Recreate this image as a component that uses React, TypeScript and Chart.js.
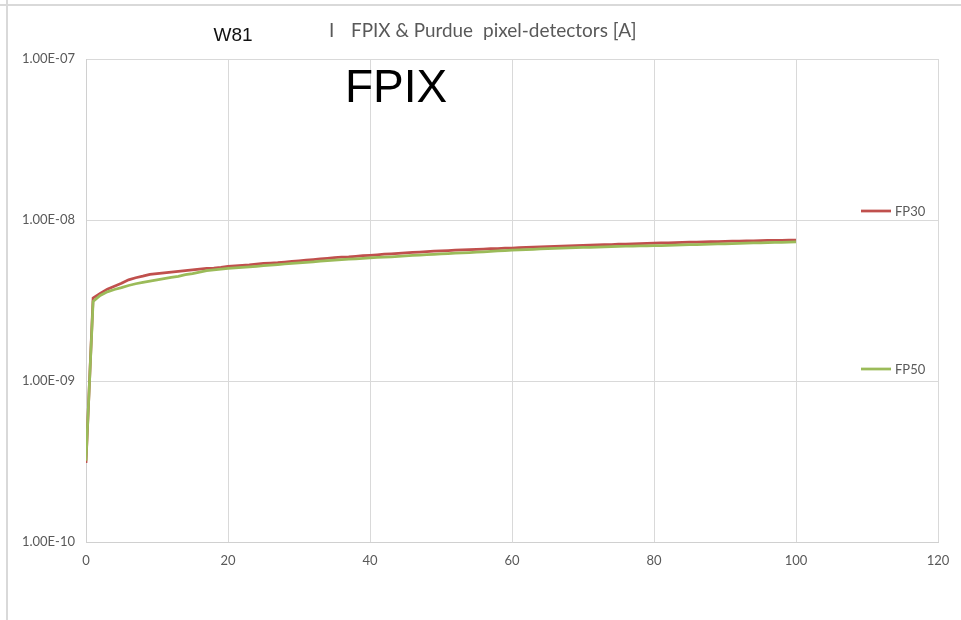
import React, { useEffect, useRef } from "react";
import { Chart, registerables } from "chart.js";

Chart.register(...registerables);

const xValues: number[] = [
  0, 1, 2, 3, 4, 5, 6, 7, 8, 9, 10, 11, 12, 13, 14, 15, 16, 17, 18, 19, 20,
  21, 22, 23, 24, 25, 26, 27, 28, 29, 30, 31, 32, 33, 34, 35, 36, 37, 38, 39, 40,
  41, 42, 43, 44, 45, 46, 47, 48, 49, 50, 51, 52, 53, 54, 55, 56, 57, 58, 59, 60,
  61, 62, 63, 64, 65, 66, 67, 68, 69, 70, 71, 72, 73, 74, 75, 76, 77, 78, 79, 80,
  81, 82, 83, 84, 85, 86, 87, 88, 89, 90, 91, 92, 93, 94, 95, 96, 97, 98, 99, 100,
];

const fp30: number[] = [
  3.1e-10, 3.28e-9, 3.5e-9, 3.72e-9, 3.88e-9, 4.05e-9, 4.25e-9, 4.38e-9, 4.48e-9, 4.6e-9, 4.65e-9,
  4.7e-9, 4.75e-9, 4.8e-9, 4.85e-9, 4.9e-9, 4.96e-9, 5.0e-9, 5.03e-9, 5.08e-9, 5.15e-9,
  5.18e-9, 5.22e-9, 5.26e-9, 5.32e-9, 5.37e-9, 5.4e-9, 5.43e-9, 5.48e-9, 5.53e-9, 5.58e-9,
  5.63e-9, 5.68e-9, 5.73e-9, 5.78e-9, 5.83e-9, 5.88e-9, 5.9e-9, 5.95e-9, 6.0e-9, 6.04e-9,
  6.08e-9, 6.13e-9, 6.16e-9, 6.2e-9, 6.25e-9, 6.29e-9, 6.32e-9, 6.36e-9, 6.4e-9, 6.43e-9,
  6.46e-9, 6.49e-9, 6.52e-9, 6.54e-9, 6.57e-9, 6.6e-9, 6.63e-9, 6.65e-9, 6.68e-9, 6.7e-9,
  6.73e-9, 6.76e-9, 6.78e-9, 6.81e-9, 6.84e-9, 6.86e-9, 6.88e-9, 6.9e-9, 6.93e-9, 6.96e-9,
  6.98e-9, 7.0e-9, 7.02e-9, 7.04e-9, 7.07e-9, 7.09e-9, 7.11e-9, 7.13e-9, 7.16e-9, 7.18e-9,
  7.2e-9, 7.22e-9, 7.24e-9, 7.26e-9, 7.28e-9, 7.3e-9, 7.31e-9, 7.33e-9, 7.35e-9, 7.37e-9,
  7.38e-9, 7.4e-9, 7.41e-9, 7.43e-9, 7.44e-9, 7.46e-9, 7.47e-9, 7.48e-9, 7.5e-9, 7.51e-9,
];

const fp50: number[] = [
  3.2e-10, 3.12e-9, 3.4e-9, 3.58e-9, 3.7e-9, 3.8e-9, 3.92e-9, 4.02e-9, 4.1e-9, 4.17e-9, 4.25e-9,
  4.32e-9, 4.4e-9, 4.47e-9, 4.58e-9, 4.65e-9, 4.75e-9, 4.85e-9, 4.9e-9, 4.95e-9, 5.0e-9,
  5.05e-9, 5.08e-9, 5.12e-9, 5.16e-9, 5.2e-9, 5.24e-9, 5.28e-9, 5.33e-9, 5.37e-9, 5.41e-9,
  5.46e-9, 5.5e-9, 5.55e-9, 5.6e-9, 5.63e-9, 5.67e-9, 5.71e-9, 5.74e-9, 5.78e-9, 5.81e-9,
  5.85e-9, 5.88e-9, 5.91e-9, 5.95e-9, 5.98e-9, 6.02e-9, 6.05e-9, 6.09e-9, 6.12e-9, 6.16e-9,
  6.19e-9, 6.22e-9, 6.25e-9, 6.28e-9, 6.32e-9, 6.35e-9, 6.38e-9, 6.42e-9, 6.46e-9, 6.5e-9,
  6.52e-9, 6.55e-9, 6.58e-9, 6.61e-9, 6.63e-9, 6.66e-9, 6.69e-9, 6.71e-9, 6.73e-9, 6.75e-9,
  6.77e-9, 6.79e-9, 6.81e-9, 6.83e-9, 6.85e-9, 6.87e-9, 6.89e-9, 6.9e-9, 6.91e-9, 6.92e-9,
  6.94e-9, 6.96e-9, 6.98e-9, 7.0e-9, 7.02e-9, 7.04e-9, 7.06e-9, 7.08e-9, 7.1e-9, 7.12e-9,
  7.14e-9, 7.16e-9, 7.18e-9, 7.2e-9, 7.22e-9, 7.24e-9, 7.26e-9, 7.27e-9, 7.29e-9, 7.31e-9,
];

const yTickValues: number[] = [1e-10, 1e-9, 1e-8, 1e-7];
const seriesLabels: string[] = ["FP30", "FP50"];
const seriesColors: string[] = ["#C0504D", "#9BBB59"];

function formatSci(v: number): string {
  const exp = Math.floor(Math.log10(v) + 1e-9);
  const mant = v / Math.pow(10, exp);
  const sign = exp < 0 ? "-" : "+";
  const e = String(Math.abs(exp)).padStart(2, "0");
  return mant.toFixed(2) + "E" + sign + e;
}

const overlayPlugin = {
  id: "overlay",
  beforeDraw(chart: any) {
    const ctx = chart.ctx;
    ctx.save();
    ctx.fillStyle = "#ffffff";
    ctx.fillRect(0, 0, chart.width, chart.height);
    ctx.strokeStyle = "#d9d9d9";
    ctx.lineWidth = 2;
    ctx.beginPath();
    ctx.moveTo(0, 5);
    ctx.lineTo(chart.width, 5);
    ctx.moveTo(7, 0);
    ctx.lineTo(7, chart.height);
    ctx.stroke();
    ctx.restore();
  },
  afterDraw(chart: any) {
    const ctx = chart.ctx;
    ctx.save();
    ctx.textBaseline = "alphabetic";
    // titles
    ctx.fillStyle = "#111111";
    ctx.font = '19px "Liberation Sans"';
    ctx.textAlign = "center";
    ctx.fillText("W81", 233, 41);

    ctx.fillStyle = "#595959";
    ctx.font = '19px Lato';
    ctx.textAlign = "left";
    ctx.fillText("I", 329, 37);
    ctx.fillText("FPIX & Purdue", 351, 37, 122);
    ctx.fillText("pixel-detectors [A]", 483, 37, 160);

    ctx.fillStyle = "#000000";
    ctx.font = '46px "Liberation Sans"';
    ctx.textAlign = "center";
    ctx.fillText("FPIX", 396, 102);

    // legend
    const legendY = [211, 369];
    chart.data.datasets.forEach((ds: any, i: number) => {
      const y = legendY[i];
      ctx.strokeStyle = ds.borderColor;
      ctx.lineWidth = 2.75;
      ctx.beginPath();
      ctx.moveTo(861, y);
      ctx.lineTo(891, y);
      ctx.stroke();
      ctx.fillStyle = "#595959";
      ctx.font = "13px Lato";
      ctx.textAlign = "left";
      ctx.textBaseline = "middle";
      ctx.fillText(ds.label, 895, y + 0.5);
    });
    ctx.restore();
  },
};

export default function App() {
  const canvasRef = useRef<HTMLCanvasElement | null>(null);

  useEffect(() => {
    document.body.style.margin = "0";
    const canvas = canvasRef.current;
    if (!canvas) return;
    const chart = new Chart(canvas, {
      type: "line",
      data: {
        datasets: [
          {
            label: seriesLabels[0],
            data: xValues.map((x, i) => ({ x, y: fp30[i] })),
            borderColor: seriesColors[0],
            borderWidth: 2.75,
            pointRadius: 0,
            tension: 0,
            order: 1,
          },
          {
            label: seriesLabels[1],
            data: xValues.map((x, i) => ({ x, y: fp50[i] })),
            borderColor: seriesColors[1],
            borderWidth: 2.75,
            pointRadius: 0,
            tension: 0,
            order: 0,
          },
        ],
      },
      options: {
        animation: false,
        responsive: false,
        devicePixelRatio: 1,
        layout: { padding: { left: 0, right: 23, top: 59, bottom: 0 } },
        plugins: {
          legend: { display: false },
          title: { display: false },
          tooltip: { enabled: false },
        },
        scales: {
          x: {
            type: "linear",
            min: 0,
            max: 120,
            ticks: {
              stepSize: 20,
              color: "#595959",
              font: { family: "Lato", size: 13 },
              padding: 11,
              maxRotation: 0,
            },
            grid: { color: "#d9d9d9", drawTicks: false, lineWidth: 1 },
            border: { display: true, color: "#d0d0d0" },
            afterFit: (axis: any) => {
              axis.height = 78;
            },
          },
          y: {
            type: "logarithmic",
            min: 1e-10,
            max: 1e-7,
            afterBuildTicks: (axis: any) => {
              axis.ticks = yTickValues.map((v) => ({ value: v }));
            },
            ticks: {
              color: "#595959",
              font: { family: "Lato", size: 13 },
              padding: 11,
              callback: (v: any) => formatSci(Number(v)),
            },
            grid: { color: "#d9d9d9", drawTicks: false, lineWidth: 1 },
            border: { display: true, color: "#d0d0d0" },
            afterFit: (axis: any) => {
              axis.width = 86;
            },
          },
        },
      },
      plugins: [overlayPlugin],
    });
    return () => chart.destroy();
  }, []);

  return (
    <div style={{ position: "absolute", left: 0, top: 0, width: 961, height: 620, background: "#fff" }}>
      <canvas ref={canvasRef} width={961} height={620} style={{ display: "block" }} />
    </div>
  );
}
